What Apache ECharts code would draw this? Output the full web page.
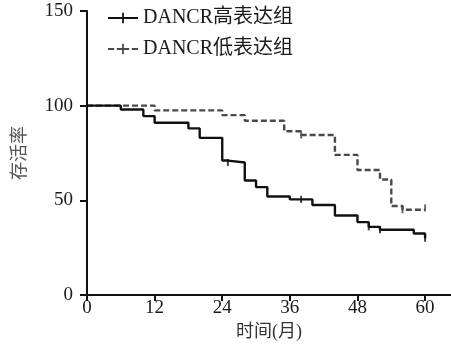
<!DOCTYPE html>
<html>
<head>
<meta charset="utf-8">
<script src="https://cdn.jsdelivr.net/npm/echarts@6/dist/echarts.min.js"></script>
<style>
    html, body {margin: 0; padding: 0; background: #fff;}
    #main {width: 451px; height: 348px;}
</style>
</head>
<body>
<div id="main"></div>
<script>
    // 生存曲线数据
    var highName = 'DANCR高表达组';
    var lowName = 'DANCR低表达组';
    var highTime = [0, 6, 10, 12, 18, 20, 24, 25, 28, 30, 32, 36, 40, 44, 48, 50, 52, 58, 60];
    var highSurv = [100, 98, 94.5, 91, 88, 83, 71, 70, 60.5, 57, 52, 50.5, 47.5, 42, 38.5, 36, 34.5, 32.5, 30];
    var lowTime = [0, 12, 24, 28, 35, 38, 44, 48, 52, 54, 56, 60];
    var lowSurv = [100, 97.5, 95, 92, 86.5, 84.5, 74, 66, 61, 47, 45, 45];
    // 删失标记
    var highCensorTime = [25, 38, 50, 52, 60];
    var highCensorSurv = [70, 50.5, 36, 34.5, 30];
    var lowCensorTime = [38, 56, 60];
    var lowCensorSurv = [84.5, 45, 46];
    var xTicks = [0, 12, 24, 36, 48, 60];

    var font = 'Liberation Serif, Noto Sans CJK SC, serif';

    function pairs(xs, ys) {
        var out = [];
        for (var i = 0; i < xs.length; i++) {
            out.push([xs[i], ys[i]]);
        }
        return out;
    }

    var chart = echarts.init(document.getElementById('main'));
    var option = {
        animation: false,
        grid: {left: 87, right: 0, top: 11, bottom: 53},
        legend: {
            orient: 'vertical',
            left: 103,
            top: 3,
            itemGap: 11,
            itemWidth: 30,
            itemHeight: 12,
            textStyle: {fontFamily: font, fontSize: 20, color: '#1a1a1a'},
            data: [
                {name: highName, icon: 'path://M0,5L34,5L34,7L0,7Z M16,0L18,0L18,12L16,12Z'},
                {name: lowName, icon: 'path://M0,5L7,5L7,7L0,7Z M10,5L16,5L16,7L10,7Z M18,5L24,5L24,7L18,7Z M27,5L34,5L34,7L27,7Z M16,0L18,0L18,12L16,12Z'}
            ]
        },
        xAxis: {
            type: 'value',
            min: 0,
            max: 64.6,
            interval: 12,
            name: '时间(月)',
            nameLocation: 'middle',
            nameGap: 25,
            nameTextStyle: {fontFamily: font, fontSize: 18, color: '#333'},
            splitLine: {show: false},
            axisLine: {lineStyle: {color: '#111', width: 2}},
            axisTick: {length: 6, lineStyle: {color: '#111', width: 2}, customValues: xTicks},
            axisLabel: {fontFamily: font, fontSize: 19, color: '#1a1a1a', margin: 4, customValues: xTicks}
        },
        yAxis: {
            type: 'value',
            min: 0,
            max: 150,
            interval: 50,
            name: '存活率',
            nameLocation: 'middle',
            nameGap: 58,
            nameTextStyle: {fontFamily: font, fontSize: 18, color: '#555'},
            splitLine: {show: false},
            axisLine: {show: true, lineStyle: {color: '#111', width: 2}},
            axisTick: {show: true, length: 7, lineStyle: {color: '#111', width: 2}},
            axisLabel: {fontFamily: font, fontSize: 19, color: '#1a1a1a', margin: 14}
        },
        series: [
            {
                name: highName,
                type: 'line',
                step: 'end',
                symbol: 'none',
                color: '#111',
                lineStyle: {color: '#111', width: 2.4},
                data: pairs(highTime, highSurv),
                z: 3
            },
            {
                name: lowName,
                type: 'line',
                step: 'end',
                symbol: 'none',
                color: '#4a4a4a',
                lineStyle: {color: '#4a4a4a', width: 2.4, type: [6, 3]},
                data: pairs(lowTime, lowSurv),
                z: 2
            },
            {
                type: 'scatter',
                symbol: 'rect',
                symbolSize: [2, 7],
                itemStyle: {color: '#111'},
                data: pairs(highCensorTime, highCensorSurv),
                z: 4
            },
            {
                type: 'scatter',
                symbol: 'rect',
                symbolSize: [2, 7],
                itemStyle: {color: '#4a4a4a'},
                data: pairs(lowCensorTime, lowCensorSurv),
                z: 4
            }
        ]
    };
    chart.setOption(option);
</script>
</body>
</html>
